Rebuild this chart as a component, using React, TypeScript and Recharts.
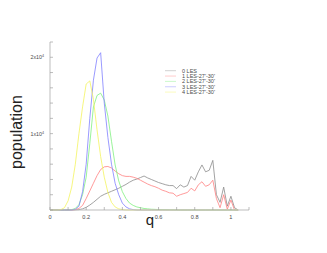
import React from 'react';
import { LineChart, Line, XAxis, YAxis, Legend } from 'recharts';

const qValues = [0, 0.02, 0.04, 0.06, 0.08, 0.1, 0.12, 0.14, 0.16, 0.18, 0.2, 0.22, 0.24, 0.26, 0.28, 0.3, 0.32, 0.34, 0.36, 0.38, 0.4, 0.42, 0.44, 0.46, 0.48, 0.5, 0.52, 0.54, 0.56, 0.58, 0.6, 0.62, 0.64, 0.66, 0.68, 0.7, 0.72, 0.74, 0.76, 0.78, 0.8, 0.82, 0.84, 0.86, 0.88, 0.9, 0.92, 0.94, 0.96, 0.98, 1.0, 1.02, 1.04];

const les0 = [0, 0, 0, 0, 0, 0, 0, 20, 50, 150, 350, 650, 1000, 1400, 1800, 2050, 2250, 2450, 2650, 2850, 3100, 3350, 3650, 3900, 4050, 4250, 4450, 4200, 4000, 3800, 3600, 3450, 3300, 3200, 3200, 2800, 3300, 3000, 3200, 4400, 3900, 5000, 5900, 5000, 5200, 6500, 2000, 1000, 3000, 500, 1800, 300, 0];
const les1 = [0, 0, 0, 0, 0, 0, 0, 50, 200, 600, 1500, 2500, 3500, 4500, 5300, 5650, 5700, 5500, 5100, 4750, 4500, 4400, 4400, 4300, 4150, 3900, 3650, 3400, 3200, 3050, 2850, 2600, 2450, 2250, 2200, 1800, 2000, 2150, 2300, 2850, 2500, 3300, 3700, 3100, 3300, 3900, 1500, 300, 2000, 100, 1300, 0, 0];
const les2 = [0, 0, 0, 0, 0, 0, 50, 200, 700, 2000, 4300, 8700, 13500, 15000, 15300, 14400, 12300, 9000, 5900, 3800, 2400, 1500, 900, 600, 400, 300, 200, 150, 100, 80, 60, 50, 40, 30, 20, 10, 0, 0, 0, 0, 0, 0, 0, 0, 0, 0, 0, 0, 0, 0, 0, 0, 0];
const les3 = [0, 0, 0, 0, 0, 0, 0, 100, 500, 2400, 6000, 12000, 17000, 19900, 20600, 14000, 9500, 6000, 3500, 2000, 900, 400, 150, 50, 0, 0, 0, 0, 0, 0, 0, 0, 0, 0, 0, 0, 0, 0, 0, 0, 0, 0, 0, 0, 0, 0, 0, 0, 0, 0, 0, 0, 0];
const les4 = [0, 0, 0, 50, 300, 1200, 3000, 6000, 10000, 13500, 16500, 16900, 14500, 10500, 7000, 4300, 2300, 1000, 400, 150, 50, 0, 0, 0, 0, 0, 0, 0, 0, 0, 0, 0, 0, 0, 0, 0, 0, 0, 0, 0, 0, 0, 0, 0, 0, 0, 0, 0, 0, 0, 0, 0, 0];

const seriesNames = ['0 LES', "1 LES-27'-30'", "2 LES-27'-30'", "3 LES-27'-30'", "4 LES-27'-30'"];
const seriesKeys = ['les0', 'les1', 'les2', 'les3', 'les4'];
const seriesColors = ['#8c8c8c', '#ff8080', '#80f080', '#8080ff', '#f4f460'];

const xTicks = [0, 0.1, 0.2, 0.3, 0.4, 0.5, 0.6, 0.7, 0.8, 0.9, 1.0, 1.1];
const xLabels = ['0', '', '0.2', '', '0.4', '', '0.6', '', '0.8', '', '1', ''];
const yTicks = [0, 2000, 4000, 6000, 8000, 10000, 12000, 14000, 16000, 18000, 20000, 22000];
const yLabels = ['', '', '', '', '', '1', '', '', '', '', '2', ''];

const data = qValues.map((q, i) => ({
  q,
  les0: les0[i],
  les1: les1[i],
  les2: les2[i],
  les3: les3[i],
  les4: les4[i],
}));

const FONT = 'Liberation Sans, Arial, sans-serif';
const FRAME = '#bdbdbd';
const TICK = '#a0a0a0';
const TEXT = '#4a4a4a';

const BottomTick = (props: any) => {
  const { x, y, index } = props;
  const label = xLabels[index];
  return (
    <g>
      <line x1={x} y1={y} x2={x} y2={y - 3} stroke={TICK} strokeWidth={0.7} />
      {label ? (
        <text x={x} y={y + 8.6} textAnchor="middle" fontSize={5.6} fill={TEXT} fontFamily={FONT}>
          {label}
        </text>
      ) : null}
    </g>
  );
};

const TopTick = (props: any) => {
  const { x, y } = props;
  return <line x1={x} y1={y} x2={x} y2={y + 3} stroke={TICK} strokeWidth={0.7} />;
};

const LeftTick = (props: any) => {
  const { x, y, index } = props;
  const label = yLabels[index];
  return (
    <g>
      <line x1={x} y1={y} x2={x + 3} y2={y} stroke={TICK} strokeWidth={0.7} />
      {label ? (
        <text x={x - 6} y={y + 2} textAnchor="end" fontSize={5.3} fill={TEXT} fontFamily={FONT}>
          {label}x10
          <tspan dy={-2} fontSize={3.6}>4</tspan>
        </text>
      ) : null}
    </g>
  );
};

const RightTick = (props: any) => {
  const { x, y } = props;
  return <line x1={x} y1={y} x2={x - 3} y2={y} stroke={TICK} strokeWidth={0.7} />;
};

const LegendBox = () => (
  <svg width={80} height={34} style={{ display: 'block' }}>
    {seriesNames.map((name, i) => (
      <g key={name}>
        <line x1={0} x2={11} y1={4.7 + i * 5.35} y2={4.7 + i * 5.35} stroke={seriesColors[i]} strokeOpacity={0.5} strokeWidth={0.8} />
        <text x={17} y={6.7 + i * 5.35} fontSize={5.5} fill={TEXT} fontFamily={FONT}>
          {name}
        </text>
      </g>
    ))}
  </svg>
);

export default function App() {
  return (
    <div style={{ position: 'absolute', left: 0, top: 0, width: 327, height: 253, background: '#fff' }}>
      <LineChart width={327} height={253} data={data} margin={{ top: 42, right: 78, bottom: 0, left: 0 }}>
        <XAxis
          dataKey="q"
          type="number"
          domain={[0, 1.1]}
          ticks={xTicks}
          interval={0}
          height={43}
          tickSize={0}
          tickMargin={0}
          axisLine={{ stroke: FRAME }}
          tick={<BottomTick />}
          label={{
            content: () => (
              <text x={150} y={225} textAnchor="middle" fontSize={15} fill="#222" fontFamily={FONT}>
                q
              </text>
            ),
          }}
        />
        <XAxis
          xAxisId="top"
          orientation="top"
          dataKey="q"
          type="number"
          domain={[0, 1.1]}
          ticks={xTicks}
          interval={0}
          height={0}
          tickSize={0}
          tickMargin={0}
          axisLine={{ stroke: FRAME }}
          tick={<TopTick />}
        />
        <YAxis
          type="number"
          domain={[0, 22000]}
          ticks={yTicks}
          interval={0}
          width={50}
          tickSize={0}
          tickMargin={0}
          axisLine={{ stroke: FRAME }}
          tick={<LeftTick />}
          label={{
            content: () => (
              <text x={22} y={132} transform="rotate(-90 22 132)" textAnchor="middle" fontSize={16} fill="#222" fontFamily={FONT}>
                population
              </text>
            ),
          }}
        />
        <YAxis
          yAxisId="right"
          orientation="right"
          type="number"
          domain={[0, 22000]}
          ticks={yTicks}
          interval={0}
          width={0}
          tickSize={0}
          tickMargin={0}
          axisLine={{ stroke: FRAME }}
          tick={<RightTick />}
        />
        {seriesKeys.map((k, i) => (
          <Line
            key={k}
            type="linear"
            dataKey={k}
            name={seriesNames[i]}
            stroke={seriesColors[i]}
            strokeWidth={0.8}
            dot={false}
            isAnimationActive={false}
          />
        ))}
        <Legend
          layout="vertical"
          align="center"
          verticalAlign="middle"
          content={<LegendBox />}
          wrapperStyle={{ position: 'absolute', left: 165, top: 66, width: 80, height: 34 }}
        />
      </LineChart>
    </div>
  );
}
